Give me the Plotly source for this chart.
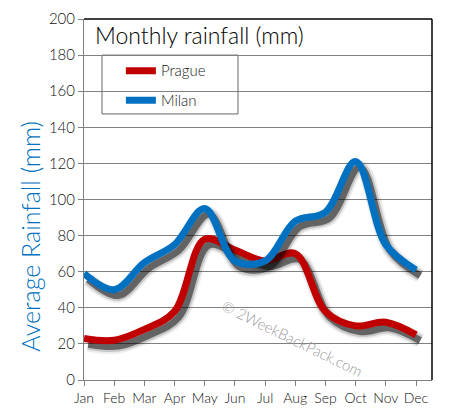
import plotly.graph_objects as go

months = ["Jan", "Feb", "Mar", "Apr", "May", "Jun", "Jul", "Aug", "Sep", "Oct", "Nov", "Dec"]
prague = [23, 22, 28, 38, 78, 72, 66, 70, 38, 30, 32, 25]
milan = [59, 50, 65, 75, 95, 66, 66, 88, 93, 121, 75, 61]
series_names = ["Prague", "Milan"]
series_colors = ["#C00000", "#0070C0"]

idx = list(range(len(months)))
XR = [0, 11.53]
YR = [0, 200]
SX, SY = 0.14, 3.2  # shadow offset in data units

fig = go.Figure()
# base subplot carries the visible axes
fig.add_trace(go.Scatter(x=[], y=[], showlegend=False, hoverinfo="skip", xaxis="x", yaxis="y"))

series = [prague, milan]
axis_n = 2
extra_axes = {}
for name, vals, col in zip(series_names, series, series_colors):
    for w, a in [(15, 0.07), (11, 0.16), (7, 0.5)]:
        fig.add_trace(go.Scatter(x=idx, y=vals, mode="lines", showlegend=False, hoverinfo="skip",
                                 line=dict(color=f"rgba(0,0,0,{a})", width=w, shape="spline", smoothing=1.0),
                                 xaxis=f"x{axis_n}", yaxis=f"y{axis_n}"))
    extra_axes[f"xaxis{axis_n}"] = dict(range=[XR[0] - SX, XR[1] - SX], overlaying="x", visible=False)
    extra_axes[f"yaxis{axis_n}"] = dict(range=[YR[0] + SY, YR[1] + SY], overlaying="y", visible=False)
    axis_n += 1
    fig.add_trace(go.Scatter(x=idx, y=vals, mode="lines", name=name, legendgroup=name,
                             line=dict(color=col, width=7, shape="spline", smoothing=1.0),
                             xaxis=f"x{axis_n}", yaxis=f"y{axis_n}"))
    extra_axes[f"xaxis{axis_n}"] = dict(range=XR, overlaying="x", visible=False)
    extra_axes[f"yaxis{axis_n}"] = dict(range=YR, overlaying="y", visible=False)
    axis_n += 1

FONT = "Lato, 'Open Sans', sans-serif"

fig.update_layout(
    width=451, height=418,
    margin=dict(l=76, r=27, t=11, b=46, autoexpand=False),
    paper_bgcolor="white", plot_bgcolor="white",
    font=dict(family=FONT, color="#111", weight=300),
    xaxis=dict(range=XR, tickmode="array", tickvals=idx, ticktext=months, automargin=False,
               showgrid=False, showline=True, linecolor="#808080", linewidth=1,
               ticks="outside", ticklen=5, tickcolor="#808080", tickfont=dict(size=14, color="#111"),
               zeroline=False, ticklabeloverflow="allow"),
    yaxis=dict(range=YR, dtick=20, showgrid=True, gridcolor="#808080", gridwidth=1, automargin=False,
               showline=True, linecolor="#808080", linewidth=1,
               ticks="outside", ticklen=5, tickcolor="#808080", tickfont=dict(size=15, color="#111"),
               zeroline=False, ticklabeloverflow="allow"),
    legend=dict(x=0.106, y=0.902, xanchor="left", yanchor="top",
                borderwidth=0, bgcolor="rgba(0,0,0,0)",
                font=dict(size=15, color="#222"), tracegroupgap=7, itemwidth=30),
    shapes=[
        dict(type="line", xref="paper", yref="paper", x0=0, x1=1, y0=1, y1=1, line=dict(color="black", width=1.5)),
        dict(type="line", xref="paper", yref="paper", x0=1, x1=1, y0=0, y1=1, line=dict(color="black", width=1.5)),
        dict(type="rect", xref="paper", yref="paper", x0=0.0517, x1=0.4425, y0=0.737, y1=0.9,
             line=dict(color="#666", width=1), fillcolor="white", layer="below"),
    ],
    annotations=[
        dict(text="Monthly rainfall (mm)", xref="paper", yref="paper", x=0.026, y=1.0,
             xanchor="left", yanchor="top", showarrow=False, font=dict(size=23, color="black")),
        dict(text="Average Rainfall (mm)", xref="paper", yref="paper", x=-0.155, y=0.397,
             xanchor="center", yanchor="middle",
             textangle=-90, showarrow=False, font=dict(size=25, color="#0070C0")),
        dict(text="© 2WeekBackPack.com", xref="paper", yref="paper", x=0.598, y=0.115,
             xanchor="center", yanchor="middle",
             textangle=26, showarrow=False, font=dict(size=15, color="#9a9a9a")),
    ],
    **extra_axes,
)

fig.write_html("out.html")
